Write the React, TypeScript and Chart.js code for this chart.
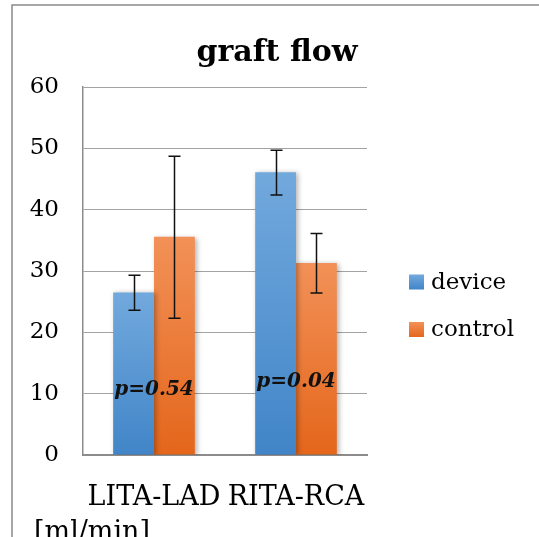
import React, { useEffect, useRef } from "react";
import { Chart, registerables } from "chart.js";

Chart.register(...registerables);

const categories = ["LITA-LAD", "RITA-RCA"];
const seriesNames = ["device", "control"];
const deviceValues = [26.5, 46.1];
const controlValues = [35.6, 31.3];
const deviceErrLow = [23.6, 42.4];
const deviceErrHigh = [29.3, 49.7];
const controlErrLow = [22.3, 26.4];
const controlErrHigh = [48.7, 36.1];
const yMin = 0;
const yMax = 60;
const yStep = 10;
const pLabels = ["p=0.54", "p=0.04"];
const pLabelY = [10.7, 12.0];
const titleText = "graft flow";
const unitText = "[ml/min]";

const FONT = "'DejaVu Serif', serif";
const BLUE_TOP = "#72a9dd";
const BLUE_BOT = "#4185c8";
const ORANGE_TOP = "#f29158";
const ORANGE_BOT = "#e4661b";

const gradFill = (top: string, bottom: string) => (c: any) => {
  const chart = c.chart;
  const y = chart.scales && chart.scales.y;
  if (!y || c.raw == null) return bottom;
  const y0 = y.getPixelForValue(c.raw);
  const y1 = y.getPixelForValue(0);
  if (!isFinite(y0) || !isFinite(y1) || y0 === y1) return bottom;
  const g = chart.ctx.createLinearGradient(0, y0, 0, y1);
  g.addColorStop(0, top);
  g.addColorStop(1, bottom);
  return g;
};

const errLows = [deviceErrLow, controlErrLow];
const errHighs = [deviceErrHigh, controlErrHigh];
const legendColors = [
  [BLUE_TOP, BLUE_BOT],
  [ORANGE_TOP, ORANGE_BOT],
];

const decor = {
  id: "decor",
  beforeDatasetDraw(chart: any) {
    const ctx = chart.ctx;
    ctx.save();
    ctx.shadowColor = "rgba(0,0,0,0.3)";
    ctx.shadowBlur = 5;
    ctx.shadowOffsetX = 2;
    ctx.shadowOffsetY = 1;
  },
  afterDatasetDraw(chart: any) {
    chart.ctx.restore();
  },
  afterDatasetsDraw(chart: any) {
    const ctx = chart.ctx;
    const ys = chart.scales.y;
    const xs = chart.scales.x;
    ctx.save();
    ctx.strokeStyle = "#111";
    ctx.lineWidth = 1.5;
    for (let i = 0; i < 2; i++) {
      const meta = chart.getDatasetMeta(i);
      meta.data.forEach((bar: any, j: number) => {
        const x = Math.round(bar.x) + 0.5;
        const yl = ys.getPixelForValue(errLows[i][j]);
        const yh = ys.getPixelForValue(errHighs[i][j]);
        ctx.beginPath();
        ctx.moveTo(x, yl);
        ctx.lineTo(x, yh);
        ctx.moveTo(x - 6, yl);
        ctx.lineTo(x + 6, yl);
        ctx.moveTo(x - 6, yh);
        ctx.lineTo(x + 6, yh);
        ctx.stroke();
      });
    }
    ctx.fillStyle = "#111";
    ctx.font = `italic bold 20px ${FONT}`;
    ctx.textAlign = "center";
    ctx.textBaseline = "middle";
    pLabels.forEach((t, j) => {
      ctx.fillText(t, xs.getPixelForValue(j), ys.getPixelForValue(pLabelY[j]));
    });
    ctx.restore();
  },
  afterDraw(chart: any) {
    const ctx = chart.ctx;
    const area = chart.chartArea;
    ctx.save();
    // frame
    ctx.strokeStyle = "#8a8a8a";
    ctx.lineWidth = 1.5;
    ctx.beginPath();
    ctx.moveTo(chart.width, 5);
    ctx.lineTo(12, 5);
    ctx.lineTo(12, chart.height);
    ctx.stroke();
    // title
    ctx.fillStyle = "#000";
    ctx.font = `bold 30px ${FONT}`;
    ctx.textAlign = "center";
    ctx.textBaseline = "alphabetic";
    ctx.fillText(titleText, 277, 61);
    // legend
    ctx.font = `23px ${FONT}`;
    ctx.textAlign = "left";
    ctx.textBaseline = "middle";
    seriesNames.forEach((name, i) => {
      const cy = 282 + i * 47.5;
      const g = ctx.createLinearGradient(0, cy - 7.5, 0, cy + 7.5);
      g.addColorStop(0, legendColors[i][0]);
      g.addColorStop(1, legendColors[i][1]);
      ctx.fillStyle = g;
      ctx.fillRect(area.right + 42, cy - 7.5, 15, 15);
      ctx.fillStyle = "#000";
      ctx.fillText(name, area.right + 64, cy + 1);
    });
    // unit
    ctx.font = `27px ${FONT}`;
    ctx.textBaseline = "alphabetic";
    ctx.fillText(unitText, 34, 540);
    ctx.restore();
  },
};

export default function App() {
  const ref = useRef<HTMLCanvasElement>(null);
  useEffect(() => {
    document.body.style.margin = "0";
    const canvas = ref.current!;
    const chart = new Chart(canvas, {
      type: "bar",
      data: {
        labels: categories,
        datasets: [
          {
            label: seriesNames[0],
            data: deviceValues,
            backgroundColor: gradFill(BLUE_TOP, BLUE_BOT),
            borderWidth: 0,
            categoryPercentage: 0.575,
            barPercentage: 1,
          },
          {
            label: seriesNames[1],
            data: controlValues,
            backgroundColor: gradFill(ORANGE_TOP, ORANGE_BOT),
            borderWidth: 0,
            categoryPercentage: 0.575,
            barPercentage: 1,
          },
        ],
      },
      options: {
        responsive: false,
        animation: false,
        layout: { padding: { left: 0, top: 87, right: 172, bottom: 0 } },
        plugins: {
          legend: { display: false },
          title: { display: false },
          tooltip: { enabled: false },
        },
        scales: {
          x: {
            type: "category",
            offset: true,
            grid: { display: false, drawTicks: false },
            border: { color: "#8c8c8c", width: 2 },
            ticks: {
              color: "#000",
              font: { family: FONT, size: 27 },
              padding: 27,
              maxRotation: 0,
              autoSkip: false,
            },
            afterFit: (s: any) => {
              s.height = 537 - 455;
            },
          },
          y: {
            min: yMin,
            max: yMax,
            grid: { color: "#a3a3a3", lineWidth: 1, drawTicks: false },
            border: { color: "#8c8c8c", width: 1.5 },
            ticks: {
              stepSize: yStep,
              color: "#000",
              font: { family: FONT, size: 23 },
              padding: 24,
            },
            afterFit: (s: any) => {
              s.width = 83;
            },
          },
        },
      },
      plugins: [decor],
    });
    return () => chart.destroy();
  }, []);
  return (
    <div style={{ width: 539, height: 537, background: "#fff" }}>
      <canvas ref={ref} width={539} height={537} style={{ display: "block" }} />
    </div>
  );
}
